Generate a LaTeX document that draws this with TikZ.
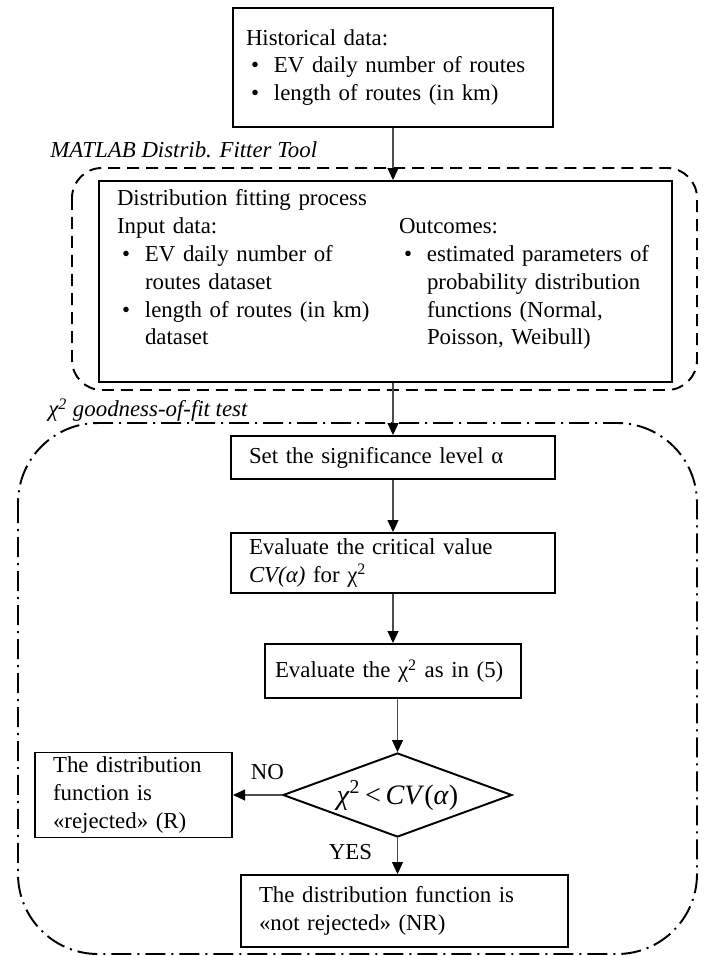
\documentclass[tikz,border=0pt]{standalone}
\usepackage{fontspec}
\setmainfont{Liberation Serif}
\usetikzlibrary{positioning, shapes.geometric, arrows.meta}
\newcommand{\bul}[1]{\par\noindent\hangindent=0.56cm\hangafter=1\makebox[0.56cm][l]{\hspace{0.1cm}\textbullet}#1}
\tikzset{
>={Triangle[length=2.4mm,width=2.2mm,color=black]}, % filled arrow heads
line/.style={->, line width=0.6pt, draw=black!70}, % connectors
block/.style={draw, line width=1.1pt, align=left, inner xsep=0.36cm, inner ysep=0.05cm,
  font=\fontsize{13}{15.9}\selectfont},
decision/.style={diamond, draw, line width=1.1pt, aspect=2.7, inner sep=0pt,
  minimum width=4.58cm, minimum height=1.68cm, font=\fontsize{16}{18}\selectfont},
tag/.style={font=\fontsize{13}{15.9}\selectfont\itshape, anchor=west, inner sep=0pt},
lbl/.style={font=\fontsize{13}{15.9}\selectfont, inner sep=0pt},
}
\begin{document}
\begin{tikzpicture}
    \useasboundingbox (0,0) rectangle (14.1,-19.12);
    % main column
    \node[block, inner xsep=0.26cm, text width=5.88cm, minimum height=2.38cm] (hist) at (7.86,-1.35)
      {Historical data:\bul{EV daily number of routes}\bul{length of routes (in km)}};
    \node[block, text width=10.74cm, minimum height=4.02cm] (fit) at (7.71,-5.63)
      {Distribution fitting process\par\noindent
       \begin{minipage}[t]{5.2cm}Input data:\bul{EV daily number of\\routes dataset}\bul{length of routes (in km)\\dataset}\end{minipage}%
       \hspace{0.44cm}%
       \begin{minipage}[t]{5.1cm}Outcomes:\bul{estimated parameters of\\probability distribution\\functions (Normal,\\Poisson, Weibull)}\end{minipage}
       \par\vspace{0.48cm}\hrule height 0pt};
    \node[block, text width=5.76cm, minimum height=0.86cm] (set) at (7.86,-9.15)
      {Set the significance level α};
    \node[block, text width=5.76cm, minimum height=1.2cm] (evalcv) at (7.86,-11.26)
      {Evaluate the critical value\\\textit{CV(α)} for χ\textsuperscript{2}};
    \node[block, inner xsep=0.2cm, text width=4.72cm, minimum height=1.08cm] (evalchi) at (7.86,-13.42)
      {Evaluate the χ\textsuperscript{2} as in (5)};
    \node[decision] (dia) at (7.95,-15.9)
      {\textit{χ}\textsuperscript{2}\,<\,\textit{CV}(\textit{α})};
    \node[block, text width=3.22cm, minimum height=1.7cm, left=0.98cm of dia] (rej)
      {The distribution\\function is\\«rejected» (R)};
    \node[block, text width=5.82cm, minimum height=1.44cm] (nrej) at (8.09,-18.22)
      {The distribution function is\\«not rejected» (NR)};

    % group frames
    \draw[line width=1.1pt, dash pattern=on 0.24cm off 0.14cm, rounded corners=0.6cm]
      (1.44,-3.36) rectangle (13.94,-7.8);
    \draw[line width=1.1pt, dash pattern=on 0.4cm off 0.12cm on 0.04cm off 0.12cm, rounded corners=1.6cm]
      (0.36,-8.46) rectangle (13.94,-19.08);
    \node[tag] (matlab) at (1.0,-3.0) {MATLAB Distrib. Fitter Tool};
    \node[tag] (gof) at (0.96,-8.2) {χ\textsuperscript{2} goodness-of-fit test};

    % connectors
    \draw[line] (hist.south) -- (hist.south |- fit.north);
    \draw[line] (set.north |- fit.south) -- (set.north);
    \draw[line] (set) -- (evalcv);
    \draw[line] (evalcv) -- (evalchi);
    \draw[line] (dia.north |- evalchi.south) -- (dia.north);
    \draw[line] (dia.west) -- node[lbl, pos=0.3, above=0.3cm] {NO} (rej.east);
    \draw[line] (dia.south) -- node[lbl, pos=0.4, left=0.5cm] {YES} (dia.south |- nrej.north);
\end{tikzpicture}
\end{document}
